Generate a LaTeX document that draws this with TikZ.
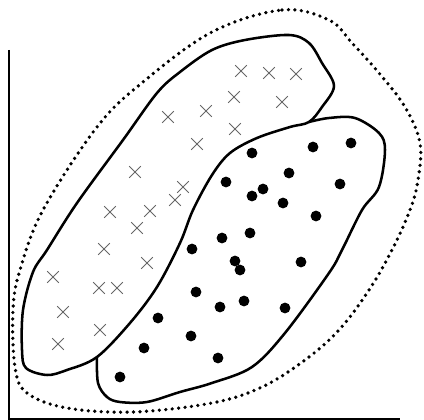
\documentclass[tikz,border=0pt]{standalone}
\usepackage{tikz}
\usetikzlibrary{shapes.misc}

\begin{document}
\begin{tikzpicture}[
    x=0.025cm, y=-0.025cm,
    region/.style={line width=1.8pt, line join=round},
    hull/.style={line width=2.6pt, line cap=round, dash pattern=on 0pt off 4.6pt},
    axis/.style={line width=1.3pt},
    dot/.style={circle, fill=black, inner sep=0pt, minimum size=0.27cm},
    crossmark/.style={cross out, draw=black!60, line width=0.55pt, inner sep=0pt, minimum size=0.27cm},
]
\useasboundingbox (0,0) rectangle (424,420);

% Axes
\coordinate (ytop) at (9,50);
\coordinate (orig) at (9,419);
\coordinate (xend) at (400,419);
\draw[axis] (ytop) -- (orig) -- (xend);

% Outer dotted hull
\draw[hull] plot[smooth cycle, tension=0.6] coordinates {
    (212,32) (282,10) (329,20) (352,43) (379,73) (405,107) (420,143)
    (418,180) (410,210) (392,250) (369,290) (339,330) (305,360) (262,387)
    (212,403) (133,412) (67,408) (27,393) (15,367) (13,310) (20,270)
    (43,210) (97,127) (143,82)};

% Class of crosses
\draw[region] plot[smooth cycle, tension=0.55] coordinates {
    (309,122) (322,107) (334,86) (322,63) (309,43) (289,35) (245,40)
    (212,50) (180,72) (157,93) (123,140) (77,203) (47,250) (33,272)
    (23,310) (22,350) (26,368) (47,375) (67,370) (97,357) (130,323)
    (157,287) (180,243) (193,210) (212,175) (230,153) (257,138) (290,127)};

% Class of dots
\draw[region] plot[smooth, tension=0.55] coordinates {
    (97,357) (98,383) (107,397) (120,402) (147,402) (180,392) (212,383)
    (252,367) (285,333) (329,273) (342,250) (362,210) (379,187) (385,150)
    (379,133) (355,118) (329,118) (309,122)};

% Crosses
\foreach \px/\py [count=\i] in {241/71, 269/73, 296/74, 234/97, 282/102,
    168/117, 206/111, 235/129, 197/144, 135/172, 183/187, 175/200,
    110/212, 150/211, 137/228, 104/249, 147/263, 53/277, 99/288,
    117/288, 63/312, 100/330, 58/344}
    \node[crossmark] (x\i) at (\px,\py) {};

% Dots
\foreach \px/\py [count=\i] in {252/153, 313/147, 351/143, 226/182, 289/173,
    263/189, 252/196, 340/184, 283/203, 316/216, 222/238, 250/233,
    235/261, 240/270, 301/262, 220/307, 244/301, 285/308, 218/358,
    192/249, 196/292, 158/318, 191/336, 144/348, 120/377}
    \node[dot] (d\i) at (\px,\py) {};

\end{tikzpicture}
\end{document}
